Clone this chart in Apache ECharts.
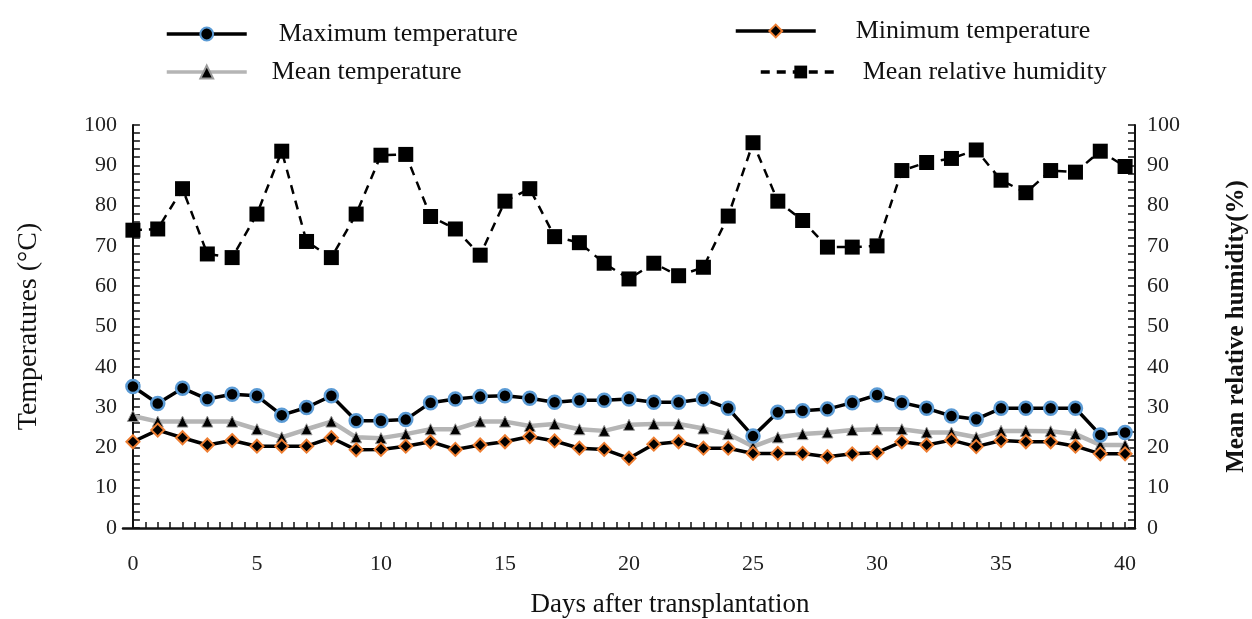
<!DOCTYPE html>
<html>
<head>
<meta charset="utf-8">
<script src="https://cdn.jsdelivr.net/npm/echarts@6/dist/echarts.min.js"></script>
<style>html,body{margin:0;padding:0;background:#fff}#c{width:1252px;height:619px}</style>
</head>
<body>
<div id="c"></div>
<script>
const days = [0,1,2,3,4,5,6,7,8,9,10,11,12,13,14,15,16,17,18,19,20,21,22,23,24,25,26,27,28,29,30,31,32,33,34,35,36,37,38,39,40];
const maxTemp = [35.1,30.9,34.7,32.0,33.2,32.8,28.0,29.9,32.8,26.6,26.6,26.9,31.1,32.0,32.6,32.8,32.2,31.2,31.7,31.7,32.0,31.2,31.2,32.0,29.7,22.8,28.7,29.1,29.5,31.1,33.0,31.1,29.7,27.8,27.0,29.7,29.7,29.7,29.7,23.1,23.7];
const minTemp = [21.4,24.3,22.4,20.6,21.7,20.3,20.3,20.3,22.4,19.4,19.5,20.3,21.4,19.5,20.6,21.4,22.7,21.6,19.8,19.5,17.3,20.8,21.4,19.8,19.8,18.5,18.5,18.5,17.7,18.4,18.7,21.4,20.6,21.8,20.2,21.7,21.4,21.4,20.3,18.4,18.4];
const meanTemp = [27.8,26.4,26.4,26.4,26.4,24.5,22.5,24.5,26.4,22.5,22.3,23.3,24.5,24.5,26.4,26.4,25.3,25.8,24.5,24.1,25.6,25.8,25.8,24.7,23.3,20.2,22.5,23.3,23.7,24.3,24.5,24.5,23.7,23.7,22.5,24.1,24.1,24.0,23.3,20.6,20.6];
const humidity = [73.9,74.2,84.2,68.0,67.1,77.9,93.5,71.1,67.1,77.9,92.5,92.7,77.3,74.2,67.7,81.1,84.2,72.3,70.8,65.7,61.8,65.7,62.6,64.7,77.4,95.6,81.1,76.3,69.7,69.7,70.0,88.7,90.7,91.7,93.8,86.3,83.2,88.7,88.3,93.5,89.7];
const xLabels = [0,5,10,15,20,25,30,35,40];

const pair = arr => days.map((d,i)=>[d, arr[i]]);
const xTicks = [];
for (let t = -0.5; t <= 40.5; t += 0.5) xTicks.push(t);

const serif = 'Liberation Serif';
const chart = echarts.init(document.getElementById('c'));
function legendItem(name, left, top, gap) {
  return {
    data: [name], left: left, top: top, orient: 'horizontal',
    itemWidth: 80, itemHeight: 16, itemGap: 0, selectedMode: false,
    lineStyle: {width: 3.5},
    textStyle: {fontFamily: serif, fontSize: 26, color: '#111', padding: [0,0,0,gap]}
  };
}
const yAxisBase = {
  type: 'value', min: 0, max: 100, interval: 10,
  axisLine: {show: true, lineStyle: {color: '#111', width: 2}},
  axisTick: {show: true, inside: true, length: 7, lineStyle: {color: '#111', width: 1.5}},
  minorTick: {show: true, splitNumber: 5, length: 7, lineStyle: {color: '#111', width: 1.5}},
  splitLine: {show: false},
  axisLabel: {fontFamily: serif, fontSize: 22, color: '#222', margin: 6},
  nameLocation: 'middle'
};
chart.setOption({
  animation: false,
  backgroundColor: '#fff',
  grid: {left: 123, right: 117, top: 125, bottom: 91, containLabel: false, outerBoundsMode: 'none'},
  legend: [
    legendItem('Maximum temperature', 160, 16, 27),
    legendItem('Minimum temperature', 729, 13, 35),
    legendItem('Mean temperature', 160, 54, 20),
    legendItem('Mean relative humidity', 754, 54, 17)
  ],
  xAxis: {
    type: 'value', min: -0.4, max: 40.4,
    name: 'Days after transplantation', nameLocation: 'middle', nameGap: 63,
    nameTextStyle: {fontFamily: serif, fontSize: 27, color: '#111', padding: [0,0,0,82]},
    axisLine: {show: true, lineStyle: {color: '#111', width: 2.5}},
    axisTick: {show: true, inside: true, length: 6, customValues: xTicks, lineStyle: {color: '#111', width: 1.5}},
    axisLabel: {fontFamily: serif, fontSize: 22, color: '#222', margin: 25, customValues: xLabels},
    splitLine: {show: false}
  },
  yAxis: [
    Object.assign({}, yAxisBase, {position: 'left', name: 'Temperatures (°C)', nameGap: 80,
      nameTextStyle: {fontFamily: serif, fontSize: 28, color: '#111'}}),
    Object.assign({}, yAxisBase, {position: 'right', name: 'Mean relative humidity(%)', nameGap: 89,
      axisLabel: {fontFamily: serif, fontSize: 22, color: '#222', margin: 12},
      nameTextStyle: {fontFamily: serif, fontSize: 25, color: '#111', fontWeight: 'bold'}})
  ],
  series: [
    {name: 'Maximum temperature', type: 'line', yAxisIndex: 0, data: pair(maxTemp),
     lineStyle: {color: '#000', width: 3.5}, symbol: 'circle', symbolSize: 13,
     itemStyle: {color: '#000', borderColor: '#5B9BD5', borderWidth: 2.5}, z: 4},
    {name: 'Minimum temperature', type: 'line', yAxisIndex: 0, data: pair(minTemp),
     lineStyle: {color: '#000', width: 3.5}, symbol: 'diamond', symbolSize: 13,
     itemStyle: {color: '#000', borderColor: '#ED7D31', borderWidth: 2}, z: 3},
    {name: 'Mean temperature', type: 'line', yAxisIndex: 0, data: pair(meanTemp),
     lineStyle: {color: '#B5B5B5', width: 4.5}, symbol: 'triangle', symbolSize: 11,
     itemStyle: {color: '#000', borderColor: '#999', borderWidth: 1}, z: 2},
    {name: 'Mean relative humidity', type: 'line', yAxisIndex: 1, data: pair(humidity),
     lineStyle: {color: '#000', width: 2.5, type: [9, 7]}, symbol: 'rect', symbolSize: 15,
     itemStyle: {color: '#000'}, z: 5}
  ]
});
</script>
</body>
</html>
